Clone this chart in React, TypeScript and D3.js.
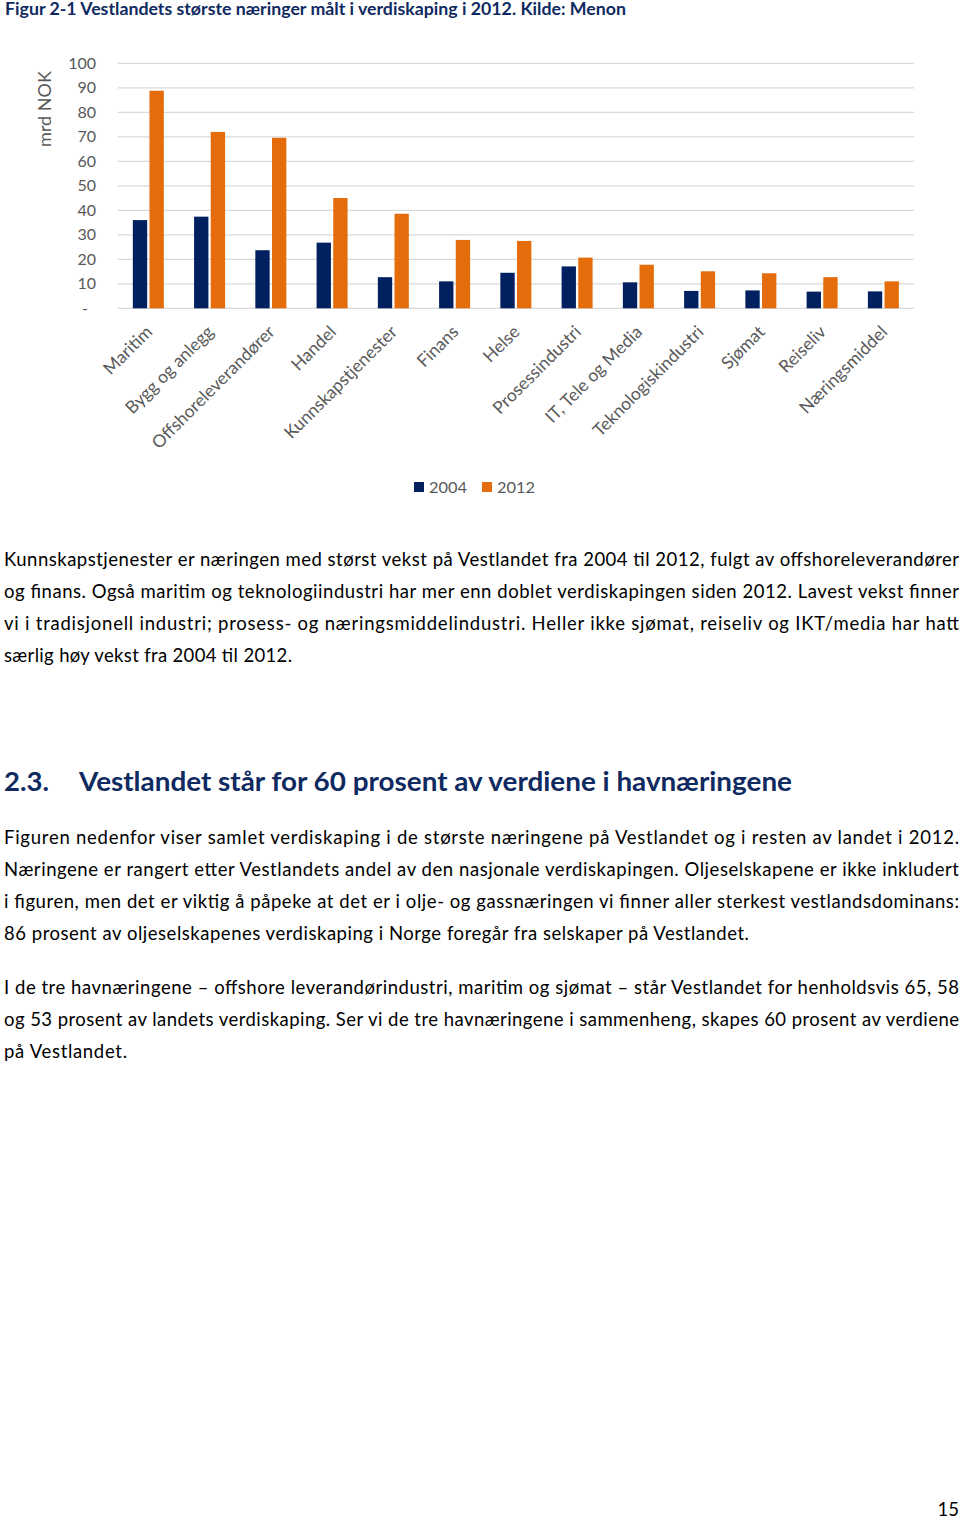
import React from 'react'
import * as d3 from 'd3'

const categories = [
  'Maritim', 'Bygg og anlegg', 'Offshoreleverandører', 'Handel', 'Kunnskapstjenester',
  'Finans', 'Helse', 'Prosessindustri', 'IT, Tele og Media', 'Teknologiskindustri',
  'Sjømat', 'Reiseliv', 'Næringsmiddel',
]
const values2004 = [36, 37.4, 23.7, 26.8, 12.7, 11, 14.5, 17.1, 10.6, 7.1, 7.3, 6.8, 6.9]
const values2012 = [88.8, 72, 69.6, 45, 38.6, 27.9, 27.5, 20.7, 17.8, 15.1, 14.3, 12.7, 11]
const seriesNames = ['2004', '2012']
const yTicks = [0, 10, 20, 30, 40, 50, 60, 70, 80, 90, 100]

const COLORS: Record<string, string> = { '2004': '#002060', '2012': '#E46C0A' }
const FONT = 'Lato, "Open Sans", sans-serif'
const NAVY = '#0F2A60'

const para1 = [
  'Kunnskapstjenester er næringen med størst vekst på Vestlandet fra 2004 til 2012, fulgt av offshoreleverandører',
  'og finans. Også maritim og teknologiindustri har mer enn doblet verdiskapingen siden 2012. Lavest vekst finner',
  'vi i tradisjonell industri; prosess- og næringsmiddelindustri. Heller ikke sjømat, reiseliv og IKT/media har hatt',
  'særlig høy vekst fra 2004 til 2012.',
]
const para2 = [
  'Figuren nedenfor viser samlet verdiskaping i de største næringene på Vestlandet og i resten av landet i 2012.',
  'Næringene er rangert etter Vestlandets andel av den nasjonale verdiskapingen. Oljeselskapene er ikke inkludert',
  'i figuren, men det er viktig å påpeke at det er i olje- og gassnæringen vi finner aller sterkest vestlandsdominans:',
  '86 prosent av oljeselskapenes verdiskaping i Norge foregår fra selskaper på Vestlandet.',
]
const para3 = [
  'I de tre havnæringene – offshore leverandørindustri, maritim og sjømat – står Vestlandet for henholdsvis 65, 58',
  'og 53 prosent av landets verdiskaping. Ser vi de tre havnæringene i sammenheng, skapes 60 prosent av verdiene',
  'på Vestlandet.',
]

function Paragraph({ lines, y0, lastWidth }: { lines: string[]; y0: number; lastWidth: number }) {
  return (
    <g fontFamily={FONT} fontSize={18.5} fill="#000">
      {lines.map((l, i) => {
        const last = i === lines.length - 1
        return (
          <text key={i} x={4} y={y0 + i * 32} textLength={last ? lastWidth : 955} lengthAdjust="spacing">
            {l}
          </text>
        )
      })}
    </g>
  )
}

export default function App() {
  const W = 960
  const H = 1519
  const plotLeft = 117.7
  const plotRight = 914
  const yTop = 63.3
  const yBottom = 308.3

  const x0 = d3.scaleBand<string>().domain(categories).range([plotLeft, plotRight]).paddingInner(0.494).paddingOuter(0.247)
  const x1 = d3.scaleBand<string>().domain(seriesNames).range([0, x0.bandwidth()]).paddingInner(0.14)
  const y = d3.scaleLinear().domain([0, 100]).range([yBottom, yTop])

  const data = categories.map((c, i) => ({ c, vals: [values2004[i], values2012[i]] }))

  return (
    <div style={{ position: 'absolute', left: 0, top: 0 }}>
      <svg width={W} height={H} style={{ display: 'block', background: '#fff' }}>
        <text x={5} y={15} fontFamily={FONT} fontWeight="bold" fontSize={16.5} fill={NAVY} textLength={621} lengthAdjust="spacingAndGlyphs">
          Figur 2-1 Vestlandets største næringer målt i verdiskaping i 2012. Kilde: Menon
        </text>

        {/* grid */}
        {yTicks.map((t) => (
          <line key={t} x1={plotLeft} x2={plotRight} y1={y(t)} y2={y(t)} stroke="#D9D9D9" strokeWidth={1.3} />
        ))}
        {/* y labels */}
        <g fontFamily={FONT} fontSize={16} fill="#595959" textAnchor="end">
          {yTicks.map((t) => (
            <text key={t} x={t === 0 ? 88 : 96} y={y(t)} dy="0.35em">
              {t === 0 ? '-' : t}
            </text>
          ))}
        </g>
        <text transform="translate(51,109) rotate(-90)" textAnchor="middle" fontFamily={FONT} fontSize={18} fill="#595959">
          mrd NOK
        </text>

        {/* bars */}
        {data.map((d) => (
          <g key={d.c} transform={`translate(${x0(d.c)},0)`}>
            {seriesNames.map((s, j) => (
              <rect key={s} x={x1(s)} y={y(d.vals[j])} width={x1.bandwidth()} height={y(0) - y(d.vals[j])} fill={COLORS[s]} />
            ))}
          </g>
        ))}

        {/* category labels */}
        <g fontFamily={FONT} fontSize={17.5} fill="#595959" textAnchor="end">
          {categories.map((c) => {
            const cx = (x0(c) as number) + x0.bandwidth() / 2 + 5
            return (
              <text key={c} transform={`translate(${cx},${333}) rotate(-45)`}>
                {c}
              </text>
            )
          })}
        </g>

        {/* legend */}
        <g fontFamily={FONT} fontSize={16} fill="#595959">
          {seriesNames.map((s, i) => (
            <g key={s} transform={`translate(${414 + i * 68},482)`}>
              <rect width={10} height={10} fill={COLORS[s]} />
              <text x={15} y={11} textLength={38} lengthAdjust="spacingAndGlyphs">{s}</text>
            </g>
          ))}
        </g>

        <Paragraph lines={para1} y0={566} lastWidth={288} />

        <g fontFamily={FONT} fontWeight="bold" fontSize={26} fill={NAVY}>
          <text x={4} y={791} textLength={45} lengthAdjust="spacingAndGlyphs">2.3.</text>
          <text x={79} y={791} textLength={713} lengthAdjust="spacingAndGlyphs">
            Vestlandet står for 60 prosent av verdiene i havnæringene
          </text>
        </g>

        <Paragraph lines={para2} y0={844} lastWidth={745} />
        <Paragraph lines={para3} y0={994} lastWidth={123} />

        <text x={959} y={1516} textAnchor="end" fontFamily={FONT} fontSize={18.5} fill="#000">
          15
        </text>
      </svg>
    </div>
  )
}
